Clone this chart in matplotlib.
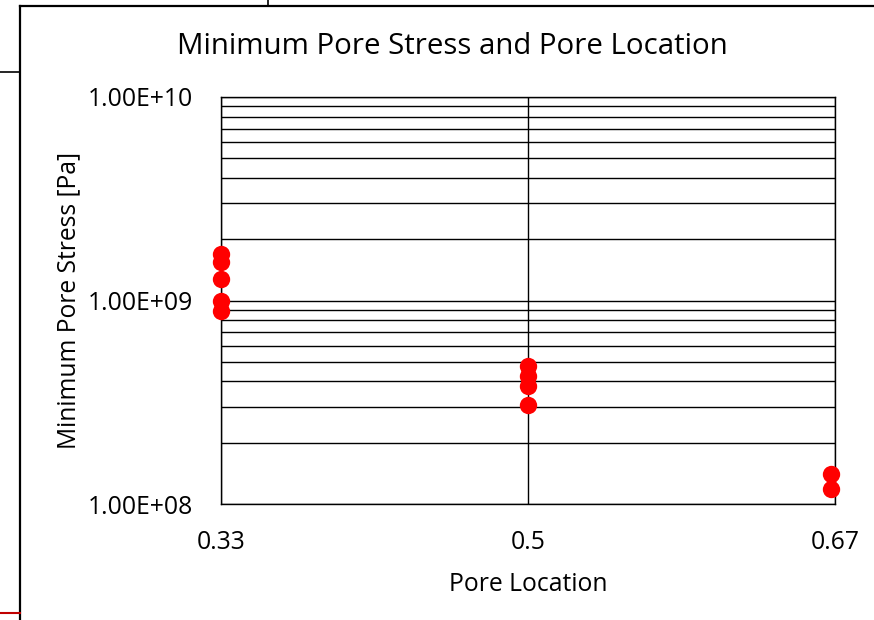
import math
import matplotlib.pyplot as plt
from matplotlib.lines import Line2D
from matplotlib.ticker import FixedLocator, LogLocator, NullFormatter, FuncFormatter

plt.rcParams["font.family"] = ["Open Sans", "DejaVu Sans"]

# pore location vs minimum stress
loc_033 = [0.33, 0.33, 0.33, 0.33, 0.33]
stress_033 = [1.70e9, 1.54e9, 1.27e9, 0.99e9, 0.89e9]
loc_050 = [0.5, 0.5, 0.5, 0.5]
stress_050 = [4.74e8, 4.28e8, 3.82e8, 3.08e8]
loc_067 = [0.668, 0.668]
stress_067 = [1.40e8, 1.18e8]

x_ticks = [0.33, 0.5, 0.67]
x_labels = ["0.33", "0.5", "0.67"]

W, H = 874, 620
fig = plt.figure(figsize=(W / 100, H / 100), dpi=100)

ax = fig.add_axes([221 / W, 1 - 504 / H, (835 - 221) / W, (504 - 97) / H])
x = loc_033 + loc_050 + loc_067
y = stress_033 + stress_050 + stress_067
ax.plot(x, y, "o", color="red", markersize=12.5, markeredgewidth=0, zorder=3, clip_on=False)

ax.set_yscale("log")
ax.set_ylim(1e8, 1e10)
ax.set_xlim(0.33, 0.67)
ax.xaxis.set_major_locator(FixedLocator(x_ticks))
ax.set_xticklabels(x_labels)
ax.yaxis.set_major_locator(LogLocator(base=10, numticks=5))
ax.yaxis.set_minor_locator(LogLocator(base=10, subs=range(2, 10), numticks=20))
ax.yaxis.set_minor_formatter(NullFormatter())
ax.yaxis.set_major_formatter(FuncFormatter(lambda v, p: "1.00E+%02d" % round(math.log10(v))))

ax.grid(True, which="both", axis="y", color="black", linewidth=1.0)
ax.grid(True, which="major", axis="x", color="black", linewidth=1.0)
ax.tick_params(which="both", length=0, labelsize=17.8)
ax.tick_params(axis="y", pad=20)
ax.tick_params(axis="x", pad=19)
for s in ax.spines.values():
    s.set_linewidth(1.0)
    s.set_color("black")

ax.set_xlabel("Pore Location", fontsize=17.8, labelpad=12)
ax.set_ylabel("Minimum Pore Stress [Pa]", fontsize=17.7, labelpad=5)
fig.text(452 / W, 1 - 46 / H, "Minimum Pore Stress and Pore Location",
         fontsize=21.2, ha="center", va="center")

# chart frame and neighbouring sheet lines
def px_line(x0, y0, x1, y1, color="black", lw=1.5):
    fig.add_artist(Line2D([x0 / W, x1 / W], [1 - y0 / H, 1 - y1 / H],
                          color=color, linewidth=lw, transform=fig.transFigure))

px_line(20, 6, 880, 6, lw=1.6)
px_line(20, 6, 20, 630, lw=1.6)
px_line(0, 72, 20, 72, lw=1.2)
px_line(268, 0, 268, 6, lw=1.2)
px_line(0, 613, 20, 613, color="#c00000", lw=1.5)

plt.savefig("out.png", dpi=100)
